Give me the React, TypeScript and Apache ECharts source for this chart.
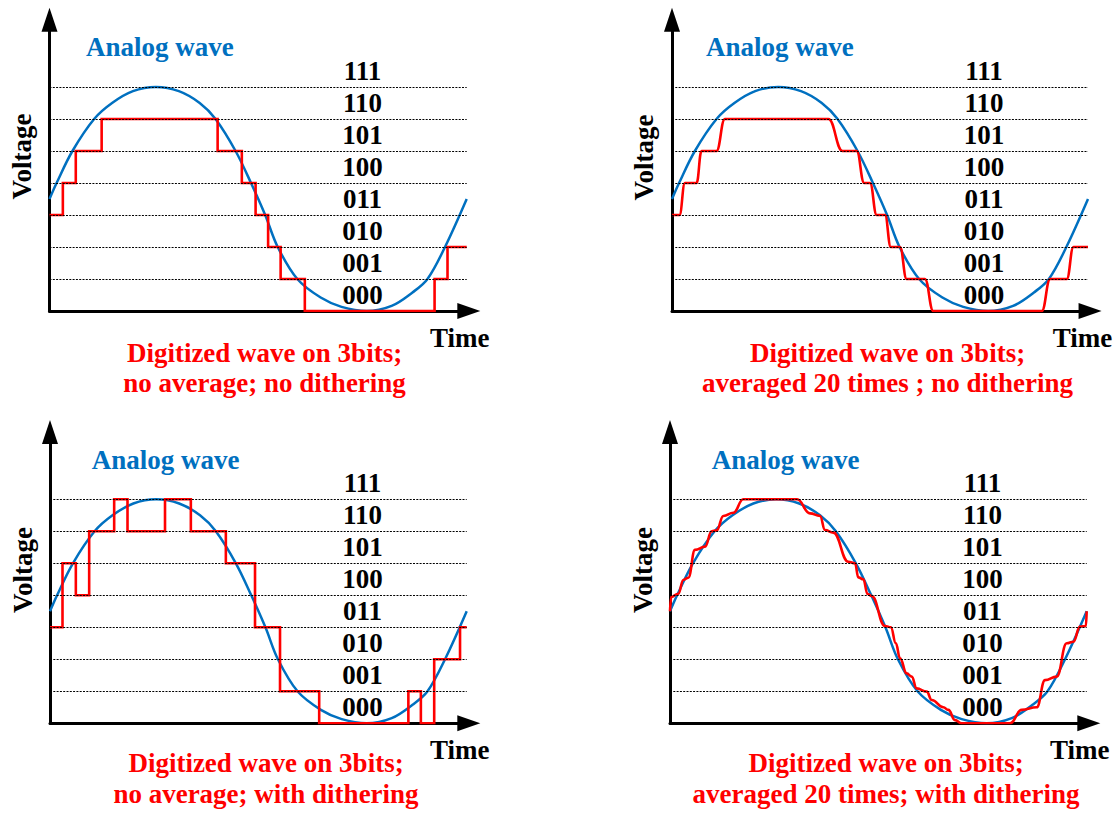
import React, { useEffect, useRef } from 'react';
import * as echarts from 'echarts';

// ---------- data ----------
// analog wave, sampled along the drawn blue curve: [time] and [voltage level]
const ANALOG_TIME = [0, 1.7, 5.5, 10.7, 15, 20, 25.5, 31, 36, 39.8, 44.6, 48.3, 51.7, 54.7, 59.4, 65, 70, 76, 82, 87, 90.6, 94.8, 100];
const ANALOG_WAVE = [3.5, 4.0, 5.0, 6.0, 6.5, 6.87, 7.0, 6.87, 6.5, 6.0, 5.0, 4.0, 3.0, 2.0, 1.0, 0.42, 0.13, 0.0, 0.16, 0.58, 1.0, 2.0, 3.5];

const CODES = ['000', '001', '010', '011', '100', '101', '110', '111'];
const LEVEL_LINES = [1, 2, 3, 4, 5, 6, 7];
const CODE_LABEL_TIME = 75;

// [time where the level starts, level]
const NO_AVG_NO_DITHER: number[][] = [
  [0, 3], [3.2, 4], [6.3, 5], [12.5, 6], [40.3, 5], [46.1, 4], [49.4, 3], [52.4, 2],
  [55.4, 1], [61.2, 0], [92.3, 1], [95.4, 2], [100, 2],
];

// smoothed transitions: [time, level]
const AVG_NO_DITHER: number[][] = [
  [0, 3], [1.8, 3], [3.1, 4], [5.9, 4], [7.1, 5], [10.7, 5], [12.7, 6], [37.6, 6],
  [41, 5], [44.4, 5], [46.2, 4], [47.6, 4], [49.2, 3], [51.2, 3], [52.6, 2], [54.8, 2],
  [56.4, 1], [60.8, 1], [62.8, 0], [88.9, 0], [90.9, 1], [94.9, 1], [96.5, 2], [100, 2],
];

const NO_AVG_DITHER: number[][] = [
  [0, 3], [3.0, 5], [6.2, 4], [9.4, 6], [15.4, 7], [18.6, 6], [27.6, 7], [33.8, 6],
  [42.2, 5], [49.2, 3], [55.2, 1], [64.6, 0], [86.0, 1], [89.0, 0], [92.2, 2], [98.4, 3], [100, 3],
];

const AVG_DITHER: number[][] = [
  [0, 3.5], [0.3, 3.95], [2, 4.05], [3.2, 4.48], [4.4, 4.55], [6, 5.42], [8.4, 5.52],
  [10, 6.0], [11.2, 6.03], [12.8, 6.48], [15.2, 6.58], [17.6, 7.0], [30.5, 7.0],
  [33.6, 6.56], [36, 6.48], [37.2, 6.04], [39.2, 5.96], [42.8, 5.05], [44.4, 5.0],
  [45.2, 4.56], [46.4, 4.5], [47.4, 4.04], [48.4, 3.98], [51.6, 3.04], [53, 3.0],
  [54.2, 2.5], [55.2, 2.03], [56.8, 1.56], [58, 1.46], [59.2, 1.09], [61.6, 0.99],
  [62.8, 0.73], [65.6, 0.5], [66.8, 0.42], [68.4, 0.1], [70, 0.0], [81.6, 0.0],
  [84.4, 0.42], [88, 0.5], [90, 1.35], [92.8, 1.46], [95.2, 2.5], [96.8, 2.55],
  [98.4, 3.02], [99.8, 3.04], [100, 3.5],
];

const ANALOG_TITLE = 'Analog wave';
const Y_NAME = 'Voltage';
const X_NAME = 'Time';
const CAPTION_LINE1 = 'Digitized wave on 3bits;';
const CAPTION_LINE2 = [
  'no average; no dithering',
  'averaged 20 times ; no dithering',
  'no average; with dithering',
  'averaged 20 times; with dithering',
];

// ---------- layout ----------
const FONT = 'Liberation Serif';
const FS = 27;
const BLUE = '#0070C0';
const RED = '#FF0000';
const Y_UNIT = 32;
const Y_MAX = 9.1;
const X_MAX = 100.5;

const PANELS = [
  { ox: 49.5, oy: 311, sx: 4.172, red: NO_AVG_NO_DITHER, mode: 'step',
    analog: [86, 47], volt: [21.5, 156.5], time: [430, 338], cap: [264.5, 353, 383] },
  { ox: 672, oy: 311, sx: 4.16, red: AVG_NO_DITHER, mode: 'smooth',
    analog: [706, 47], volt: [644, 157.5], time: [1052.7, 338], cap: [887.5, 353, 383] },
  { ox: 50, oy: 723.3, sx: 4.167, red: NO_AVG_DITHER, mode: 'step',
    analog: [91.7, 460], volt: [22.5, 570], time: [430, 750], cap: [266, 763, 794] },
  { ox: 670, oy: 723.3, sx: 4.167, red: AVG_DITHER, mode: 'smooth',
    analog: [711.7, 460], volt: [642.5, 570], time: [1050, 750], cap: [886, 763, 794] },
];

function txt(text: string, x: number, y: number, color: string, align: string, rotation = 0) {
  return {
    type: 'text',
    x,
    y,
    rotation,
    silent: true,
    z: 100,
    style: {
      text,
      x: 0,
      y: 0,
      fill: color,
      font: `bold ${FS}px ${FONT}`,
      align,
      verticalAlign: 'middle',
      textAlign: align,
      textVerticalAlign: 'middle',
    },
  };
}

export default function App() {
  const ref = useRef<HTMLDivElement>(null);

  useEffect(() => {
    const chart = echarts.init(ref.current as HTMLDivElement, null, { renderer: 'svg' });

    const grid: any[] = [];
    const xAxis: any[] = [];
    const yAxis: any[] = [];
    const series: any[] = [];
    const graphic: any[] = [];

    const axisLine = (size: number[]) => ({
      show: true,
      onZero: false,
      symbol: ['none', 'triangle'],
      symbolSize: size,
      lineStyle: { color: '#000', width: 3 },
    });

    PANELS.forEach((p, i) => {
      const h = Y_MAX * Y_UNIT;
      grid.push({
        left: p.ox,
        top: p.oy - h,
        width: X_MAX * p.sx,
        height: h,
        containLabel: false,
        outerBoundsMode: 'none',
      });
      xAxis.push({
        gridIndex: i,
        type: 'value',
        min: 0,
        max: X_MAX,
        axisLine: axisLine([16, 23]),
        axisTick: { show: false },
        axisLabel: { show: false },
        splitLine: { show: false },
      });
      yAxis.push({
        gridIndex: i,
        type: 'value',
        min: 0,
        max: Y_MAX,
        axisLine: axisLine([16, 24]),
        axisTick: { show: false },
        axisLabel: { show: false },
        splitLine: { show: false },
      });

      // dotted quantization levels
      series.push({
        type: 'line',
        xAxisIndex: i,
        yAxisIndex: i,
        data: [],
        silent: true,
        z: 1,
        markLine: {
          silent: true,
          symbol: ['none', 'none'],
          label: { show: false },
          emphasis: { disabled: true },
          lineStyle: { color: '#000', width: 1.2, type: [2, 1.3], opacity: 1 },
          data: LEVEL_LINES.map((l) => [{ coord: [0, l] }, { coord: [100, l] }]),
        },
      });

      // analog wave
      series.push({
        type: 'line',
        xAxisIndex: i,
        yAxisIndex: i,
        data: ANALOG_TIME.map((t, k) => [t, ANALOG_WAVE[k]]),
        smooth: 0.35,
        showSymbol: false,
        silent: true,
        z: 2,
        lineStyle: { color: BLUE, width: 2.5 },
      });

      // digitized wave
      const red: any = {
        type: 'line',
        xAxisIndex: i,
        yAxisIndex: i,
        data: p.red,
        showSymbol: false,
        silent: true,
        z: 3,
        lineStyle: { color: RED, width: 2.6, join: 'miter' },
      };
      if (p.mode === 'step') red.step = 'end';
      else {
        red.smooth = 0.45;
        red.smoothMonotone = 'x';
      }
      series.push(red);

      // code labels
      series.push({
        type: 'scatter',
        xAxisIndex: i,
        yAxisIndex: i,
        data: CODES.map((c, k) => [CODE_LABEL_TIME, k + 0.5, c]),
        symbolSize: 1,
        silent: true,
        z: 5,
        itemStyle: { color: 'rgba(255,255,255,0)' },
        label: {
          show: true,
          position: 'inside',
          formatter: (d: any) => d.value[2],
          color: '#000',
          fontFamily: FONT,
          fontWeight: 'bold',
          fontSize: FS,
          textBorderWidth: 0,
          textBorderColor: 'transparent',
          textShadowBlur: 0,
          opacity: 1,
        },
      });

      graphic.push(txt(ANALOG_TITLE, p.analog[0], p.analog[1], BLUE, 'left'));
      graphic.push(txt(Y_NAME, p.volt[0], p.volt[1], '#000', 'center', Math.PI / 2));
      graphic.push(txt(X_NAME, p.time[0], p.time[1], '#000', 'left'));
      graphic.push(txt(CAPTION_LINE1, p.cap[0], p.cap[1], RED, 'center'));
      graphic.push(txt(CAPTION_LINE2[i], p.cap[0], p.cap[2], RED, 'center'));
    });

    chart.setOption({
      animation: false,
      backgroundColor: '#fff',
      grid,
      xAxis,
      yAxis,
      series,
      graphic: { elements: graphic },
    });

    return () => chart.dispose();
  }, []);

  return (
    <div
      ref={ref}
      style={{ position: 'fixed', left: 0, top: 0, width: 1118, height: 813, background: '#fff' }}
    />
  );
}
